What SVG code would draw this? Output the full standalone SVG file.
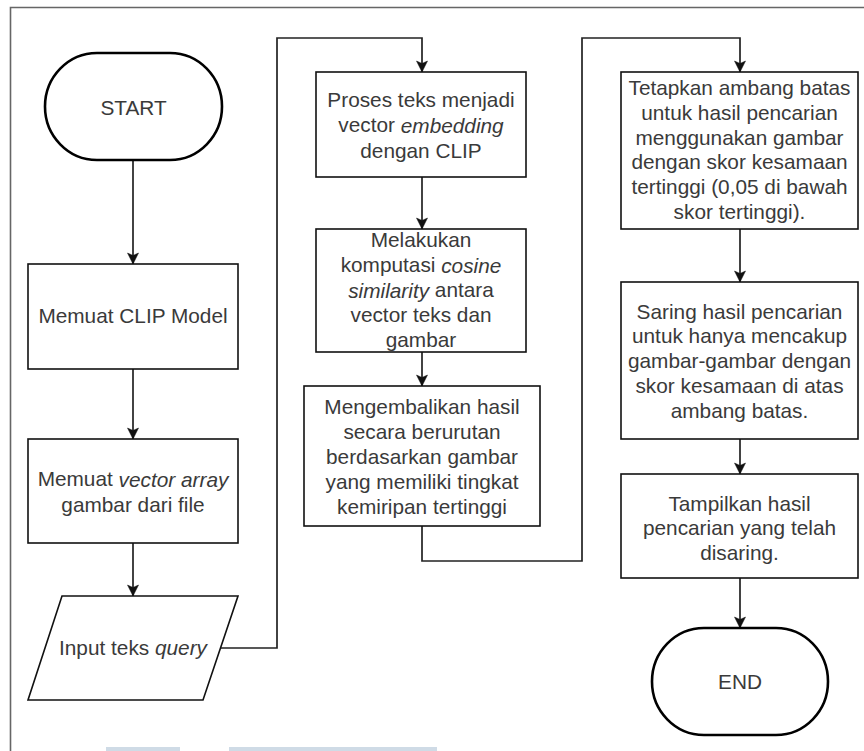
<svg xmlns="http://www.w3.org/2000/svg" width="864" height="751" viewBox="0 0 864 751">
<defs>
<marker id="arr" markerUnits="userSpaceOnUse" markerWidth="12" markerHeight="12" refX="11" refY="6" orient="auto" overflow="visible">
<path d="M0,0.5 L11,6 L0,11.5 L2.5,6 z" fill="#111" stroke="#111" stroke-width="0.5"/>
</marker>
<style>
.box{fill:#fff;stroke:#111;stroke-width:1.6}
.term{fill:#fff;stroke:#000;stroke-width:2.6}
.t{font-family:"Liberation Sans",Arial,sans-serif;font-size:20.8px;fill:#3a3a3a;text-anchor:middle;dominant-baseline:central}
.i{font-style:italic}
.c{fill:none;stroke:#222;stroke-width:1.7}
</style>
</defs>
<rect width="864" height="751" fill="#fff"/>
<path d="M10.5 751 V7.5 H864" fill="none" stroke="#666" stroke-width="1.6"/>
<rect x="106" y="747" width="74" height="4" fill="#cfdbe6"/>
<rect x="229" y="747" width="208" height="4" fill="#cfdbe6"/>

<g id="connectors">
<path class="c" d="M133 160 V264" marker-end="url(#arr)"/>
<path class="c" d="M133 369 V439" marker-end="url(#arr)"/>
<path class="c" d="M133 543 V596" marker-end="url(#arr)"/>
<path class="c" d="M220 648 H277 V38 H422 V72" marker-end="url(#arr)"/>
<path class="c" d="M422 177 V229" marker-end="url(#arr)"/>
<path class="c" d="M422 352 V386" marker-end="url(#arr)"/>
<path class="c" d="M422 526 V561 H582 V38 H740 V72" marker-end="url(#arr)"/>
<path class="c" d="M740 229 V282" marker-end="url(#arr)"/>
<path class="c" d="M740 439 V474" marker-end="url(#arr)"/>
<path class="c" d="M740 578 V628" marker-end="url(#arr)"/>
</g>

<g id="start">
<rect class="term" x="45" y="53" width="177" height="107" rx="52" ry="53.5"/>
<text class="t" x="133.5" y="107">START</text>
</g>
<g id="load-model">
<rect class="box" x="28" y="264" width="210" height="105"/>
<text class="t" x="133" y="315">Memuat CLIP Model</text>
</g>
<g id="load-vectors">
<rect class="box" x="28" y="439" width="210" height="104"/>
<text class="t" x="133" y="478.5">Memuat <tspan class="i">vector array</tspan></text>
<text class="t" x="133" y="504.5">gambar dari file</text>
</g>
<g id="input-query">
<polygon class="box" points="62,596 238,596 203,700 28,700"/>
<text class="t" x="133" y="647">Input teks <tspan class="i">query</tspan></text>
</g>
<g id="embed-text">
<rect class="box" x="316" y="72" width="210" height="105"/>
<text class="t" x="421" y="99">Proses teks menjadi</text>
<text class="t" x="421" y="124.5">vector <tspan class="i">embedding</tspan></text>
<text class="t" x="421" y="150">dengan CLIP</text>
</g>
<g id="cosine">
<rect class="box" x="316" y="229" width="210" height="123"/>
<text class="t" x="421" y="239.5">Melakukan</text>
<text class="t" x="421" y="264.5">komputasi <tspan class="i">cosine</tspan></text>
<text class="t" x="421" y="289.5"><tspan class="i">similarity</tspan> antara</text>
<text class="t" x="421" y="314.5">vector teks dan</text>
<text class="t" x="421" y="339.5">gambar</text>
</g>
<g id="ranking">
<rect class="box" x="304" y="386" width="236" height="140"/>
<text class="t" x="422" y="406.5">Mengembalikan hasil</text>
<text class="t" x="422" y="431.5">secara berurutan</text>
<text class="t" x="422" y="456.5">berdasarkan gambar</text>
<text class="t" x="422" y="481.5">yang memiliki tingkat</text>
<text class="t" x="422" y="506.5">kemiripan tertinggi</text>
</g>
<g id="threshold">
<rect class="box" x="621" y="72" width="237" height="157"/>
<text class="t" x="739.5" y="87.5">Tetapkan ambang batas</text>
<text class="t" x="739.5" y="112.3">untuk hasil pencarian</text>
<text class="t" x="739.5" y="137.1">menggunakan gambar</text>
<text class="t" x="739.5" y="161.9">dengan skor kesamaan</text>
<text class="t" x="739.5" y="186.7">tertinggi (0,05 di bawah</text>
<text class="t" x="739.5" y="211.5">skor tertinggi).</text>
</g>
<g id="filter">
<rect class="box" x="621" y="282" width="237" height="157"/>
<text class="t" x="739.5" y="311">Saring hasil pencarian</text>
<text class="t" x="739.5" y="335.8">untuk hanya mencakup</text>
<text class="t" x="739.5" y="360.6">gambar-gambar dengan</text>
<text class="t" x="739.5" y="385.4">skor kesamaan di atas</text>
<text class="t" x="739.5" y="410.2">ambang batas.</text>
</g>
<g id="show">
<rect class="box" x="621" y="474" width="237" height="104"/>
<text class="t" x="739.5" y="503">Tampilkan hasil</text>
<text class="t" x="739.5" y="527.8">pencarian yang telah</text>
<text class="t" x="739.5" y="552.6">disaring.</text>
</g>
<g id="end">
<rect class="term" x="652" y="628" width="176" height="107" rx="52" ry="53.5"/>
<text class="t" x="740" y="681.5">END</text>
</g>
</svg>
